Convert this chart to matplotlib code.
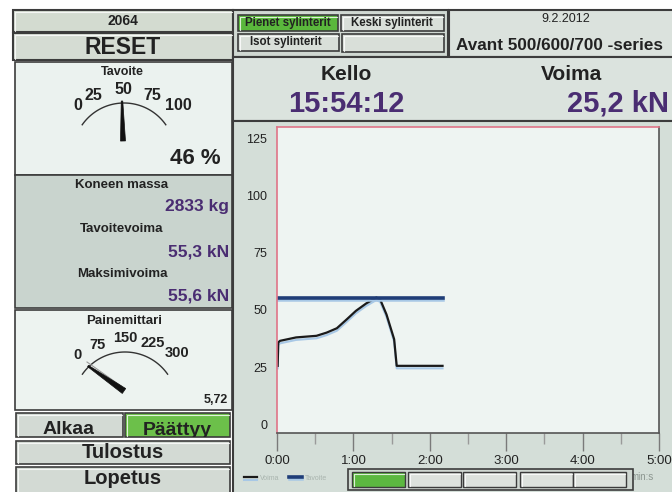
import numpy as np
import matplotlib.pyplot as plt
import matplotlib.patheffects as pe
from matplotlib.patches import Rectangle, Polygon

plt.rcParams['font.family'] = ['Liberation Sans', 'DejaVu Sans']

# force curve (time in seconds, force in kN)
time_s = [0.5, 1, 2.3, 15, 31, 39, 47, 55, 62, 70, 78, 81, 86, 92, 94, 130]
force_kn = [25.6, 35.8, 36.5, 38.0, 38.7, 40.1, 42.0, 46.0, 49.6, 52.8, 55.4, 54.6, 48.0, 37.2, 25.6, 25.6]
# target force line
target_time_s = [0, 130]
target_kn = [55.3, 55.3]

y_ticks = [0, 25, 50, 75, 100, 125]
x_ticks_s = [0, 60, 120, 180, 240, 300]
x_minor_s = [30, 90, 150, 210, 270]
x_tick_labels = ['0:00', '1:00', '2:00', '3:00', '4:00', '5:00']

tavoite_labels = ['0', '25', '50', '75', '100']
paine_labels = ['0', '75', '150', '225', '300']

PURPLE = '#4a2d72'
DARK = '#222222'
PANEL = '#d4ded8'

W, H = 672, 492
fig = plt.figure(figsize=(6.72, 4.92), dpi=100)
bg = fig.add_axes([0, 0, 1, 1])
bg.set_xlim(0, W)
bg.set_ylim(H, 0)
bg.axis('off')


def box(x0, y0, x1, y1, fc, ec='#3c3c3c', lw=1.2, z=1, bevel=False):
    r = Rectangle((x0, y0), x1 - x0, y1 - y0, fc=fc, ec=ec, lw=lw, zorder=z)
    bg.add_patch(r)
    if bevel:
        bg.plot([x0 + 1.5, x0 + 1.5, x1 - 1.5], [y1 - 1.5, y0 + 1.5, y0 + 1.5],
                color='white', lw=0.8, alpha=0.8, zorder=z + 0.1)
    return r


def label(x, y, s, size, color=DARK, ha='center', weight='bold', clip=None, va='center', z=5):
    t = bg.text(x, y, s, fontsize=size, color=color, ha=ha, va=va,
                fontweight=weight, zorder=z)
    if clip is not None:
        t.set_clip_on(True)
        t.set_clip_path(clip)
    return t


def gauge_arc(cx, cy, r):
    a = np.radians(np.linspace(35, 145, 60))
    bg.plot(cx + r * np.cos(a), cy - r * np.sin(a), color='#333333', lw=1.0, zorder=3)


def needle(p0, p1, w0, w1):
    p0 = np.array(p0, float)
    p1 = np.array(p1, float)
    d = p1 - p0
    n = np.array([-d[1], d[0]]) / np.hypot(*d)
    pts = [p0 + n * w0 / 2, p1 + n * w1 / 2, p1 - n * w1 / 2, p0 - n * w0 / 2]
    bg.add_patch(Polygon(pts, closed=True, fc='#111111', ec='#111111', lw=0.5, zorder=4))


# ---- left column ----
box(13, 10, 233, 32, '#d3dbd0', lw=1.5, bevel=True)
label(123, 21, '2064', 10)
box(13, 33, 233, 60, '#d5dcd3', lw=1.5, bevel=True)
label(123, 47, 'RESET', 16.5)

box(15, 62, 232, 175, '#ebf2ef')
label(122, 72, 'Tavoite', 9)
gauge_arc(124, 154, 51)
for (gx, gy), s in zip([(78, 106), (93, 95), (123, 89), (152, 95), (178, 105)], tavoite_labels):
    label(gx, gy, s, 11.5)
needle((122, 101), (123, 141), 1.5, 5)
label(221, 158, '46 %', 16, ha='right')

box(15, 175, 232, 308, '#c9d4ce')
label(122, 185, 'Koneen massa', 9.5)
label(229, 207, '2833 kg', 12.5, color=PURPLE, ha='right')
label(122, 229, 'Tavoitevoima', 9.5)
label(229, 252, '55,3 kN', 12.5, color=PURPLE, ha='right')
label(122, 274, 'Maksimivoima', 9.5)
label(229, 296, '55,6 kN', 12.5, color=PURPLE, ha='right')

box(15, 310, 232, 410, '#edf3f0')
label(124, 321, 'Painemittari', 9.5)
gauge_arc(125, 404, 52)
for (gx, gy), s in zip([(78, 355), (97, 345), (125, 338), (153, 343), (177, 353)], paine_labels):
    label(gx, gy, s, 10.5)
bg.plot([87, 121], [362, 386], color='#9a9a9a', lw=0.8, zorder=3.5)
needle((88, 366), (124, 391), 1.5, 6)
label(228, 400, '5,72', 9, ha='right')

b_alk = box(16, 413, 123, 437, '#d3dad4', bevel=True)
label(69, 434, 'Alkaa', 14, va='baseline', clip=b_alk)
b_paa = box(125, 413, 230, 437, '#6cc04a', bevel=True)
label(177, 435, 'Päättyy', 14, va='baseline', clip=b_paa)
b_tul = box(16, 441, 230, 464, '#d3dad4', bevel=True)
label(123, 452, 'Tulostus', 14.5, clip=b_tul)
b_lop = box(16, 467, 230, 496, '#d3dad4', bevel=True)
label(123, 479, 'Lopetus', 14.5, clip=b_lop)

# ---- top right ----
box(233, 10, 448, 57, '#d0d8d2', lw=1.5)
b1 = box(238, 15, 338, 31, '#5ab83c', bevel=True)
label(288, 23, 'Pienet sylinterit', 8.3, clip=b1)
b2 = box(341, 15, 444, 31, '#d9dfd9', bevel=True)
label(392, 23, 'Keski sylinterit', 8.3, clip=b2)
b3 = box(238, 34, 339, 51, '#d9dfd9', bevel=True)
label(286, 42, 'Isot sylinterit', 8.3, clip=b3)
box(342, 34, 444, 52, '#d9dfd9', bevel=True)

box(449, 10, 690, 57, '#dbe2dd', lw=1.5)
label(566, 19, '9.2.2012', 9, weight='normal')
label(456, 46, 'Avant 500/600/700 -series', 12.3, ha='left')

box(233, 57, 690, 121, '#dbe3de', lw=1.5)
label(346, 74, 'Kello', 15)
label(346, 104, '15:54:12', 21, color=PURPLE)
label(571, 74, 'Voima', 15)
label(669, 104, '25,2 kN', 21, color=PURPLE, ha='right')

# chart panel
box(233, 121, 690, 500, PANEL, lw=1.5)

# bottom button strip
box(348, 469, 633, 490, '#cfd7d1', z=2)
for i, x0 in enumerate([352, 408, 463, 520, 573]):
    box(x0, 472, x0 + 53, 487, '#5cb840' if i == 0 else '#dde2dd', lw=1.0, z=3, bevel=True)
label(630, 477, 'min:s', 7, color='#8c9690', ha='left', weight='normal', z=1.5)

# ---- chart ----
ax = fig.add_axes([277 / W, (H - 433) / H, (659 - 277) / W, (433 - 127) / H])
ax.set_facecolor('#eef4f2')
force_line, = ax.plot(time_s, force_kn, color='#1a1a1a', lw=1.6, label='Voima',
                      path_effects=[pe.SimpleLineShadow(offset=(0, -1.8), shadow_color='#a8c8e6',
                                                        alpha=1, linewidth=1.5), pe.Normal()])
target_line, = ax.plot(target_time_s, target_kn, color='#1f3d78', lw=2.6, label='Tavoite',
                       path_effects=[pe.SimpleLineShadow(offset=(0, -1.6), shadow_color='#a8c8e6',
                                                         alpha=1, linewidth=1.8), pe.Normal()])
ax.set_xlim(0, 300)
ax.set_ylim(-3.7, 129.8)
ax.set_yticks(y_ticks)
ax.set_xticks(x_ticks_s)
ax.set_xticklabels(x_tick_labels)
ax.set_xticks(x_minor_s, minor=True)
ax.tick_params(axis='y', length=0, pad=7, labelsize=9, labelcolor=DARK)
ax.tick_params(axis='x', which='major', direction='out', length=13, width=1.0,
               color='#7a7a7a', pad=2.5, labelsize=9.5, labelcolor=DARK)
ax.tick_params(axis='x', which='minor', direction='out', length=8, width=1.0, color='#9a9a9a')
for side in ('left', 'top'):
    ax.spines[side].set_color('#e07488')
    ax.spines[side].set_linewidth(1.2)
for side in ('right', 'bottom'):
    ax.spines[side].set_color('#555555')
    ax.spines[side].set_linewidth(1.2)

fig.legend(handles=[force_line, target_line], loc='center left',
           bbox_to_anchor=(238 / W, (H - 478) / H), ncol=2, frameon=False,
           fontsize=5, labelcolor='#a9b4ae', handlelength=1.8, handletextpad=0.4,
           columnspacing=1.5)

fig.savefig('out.png', dpi=100)
